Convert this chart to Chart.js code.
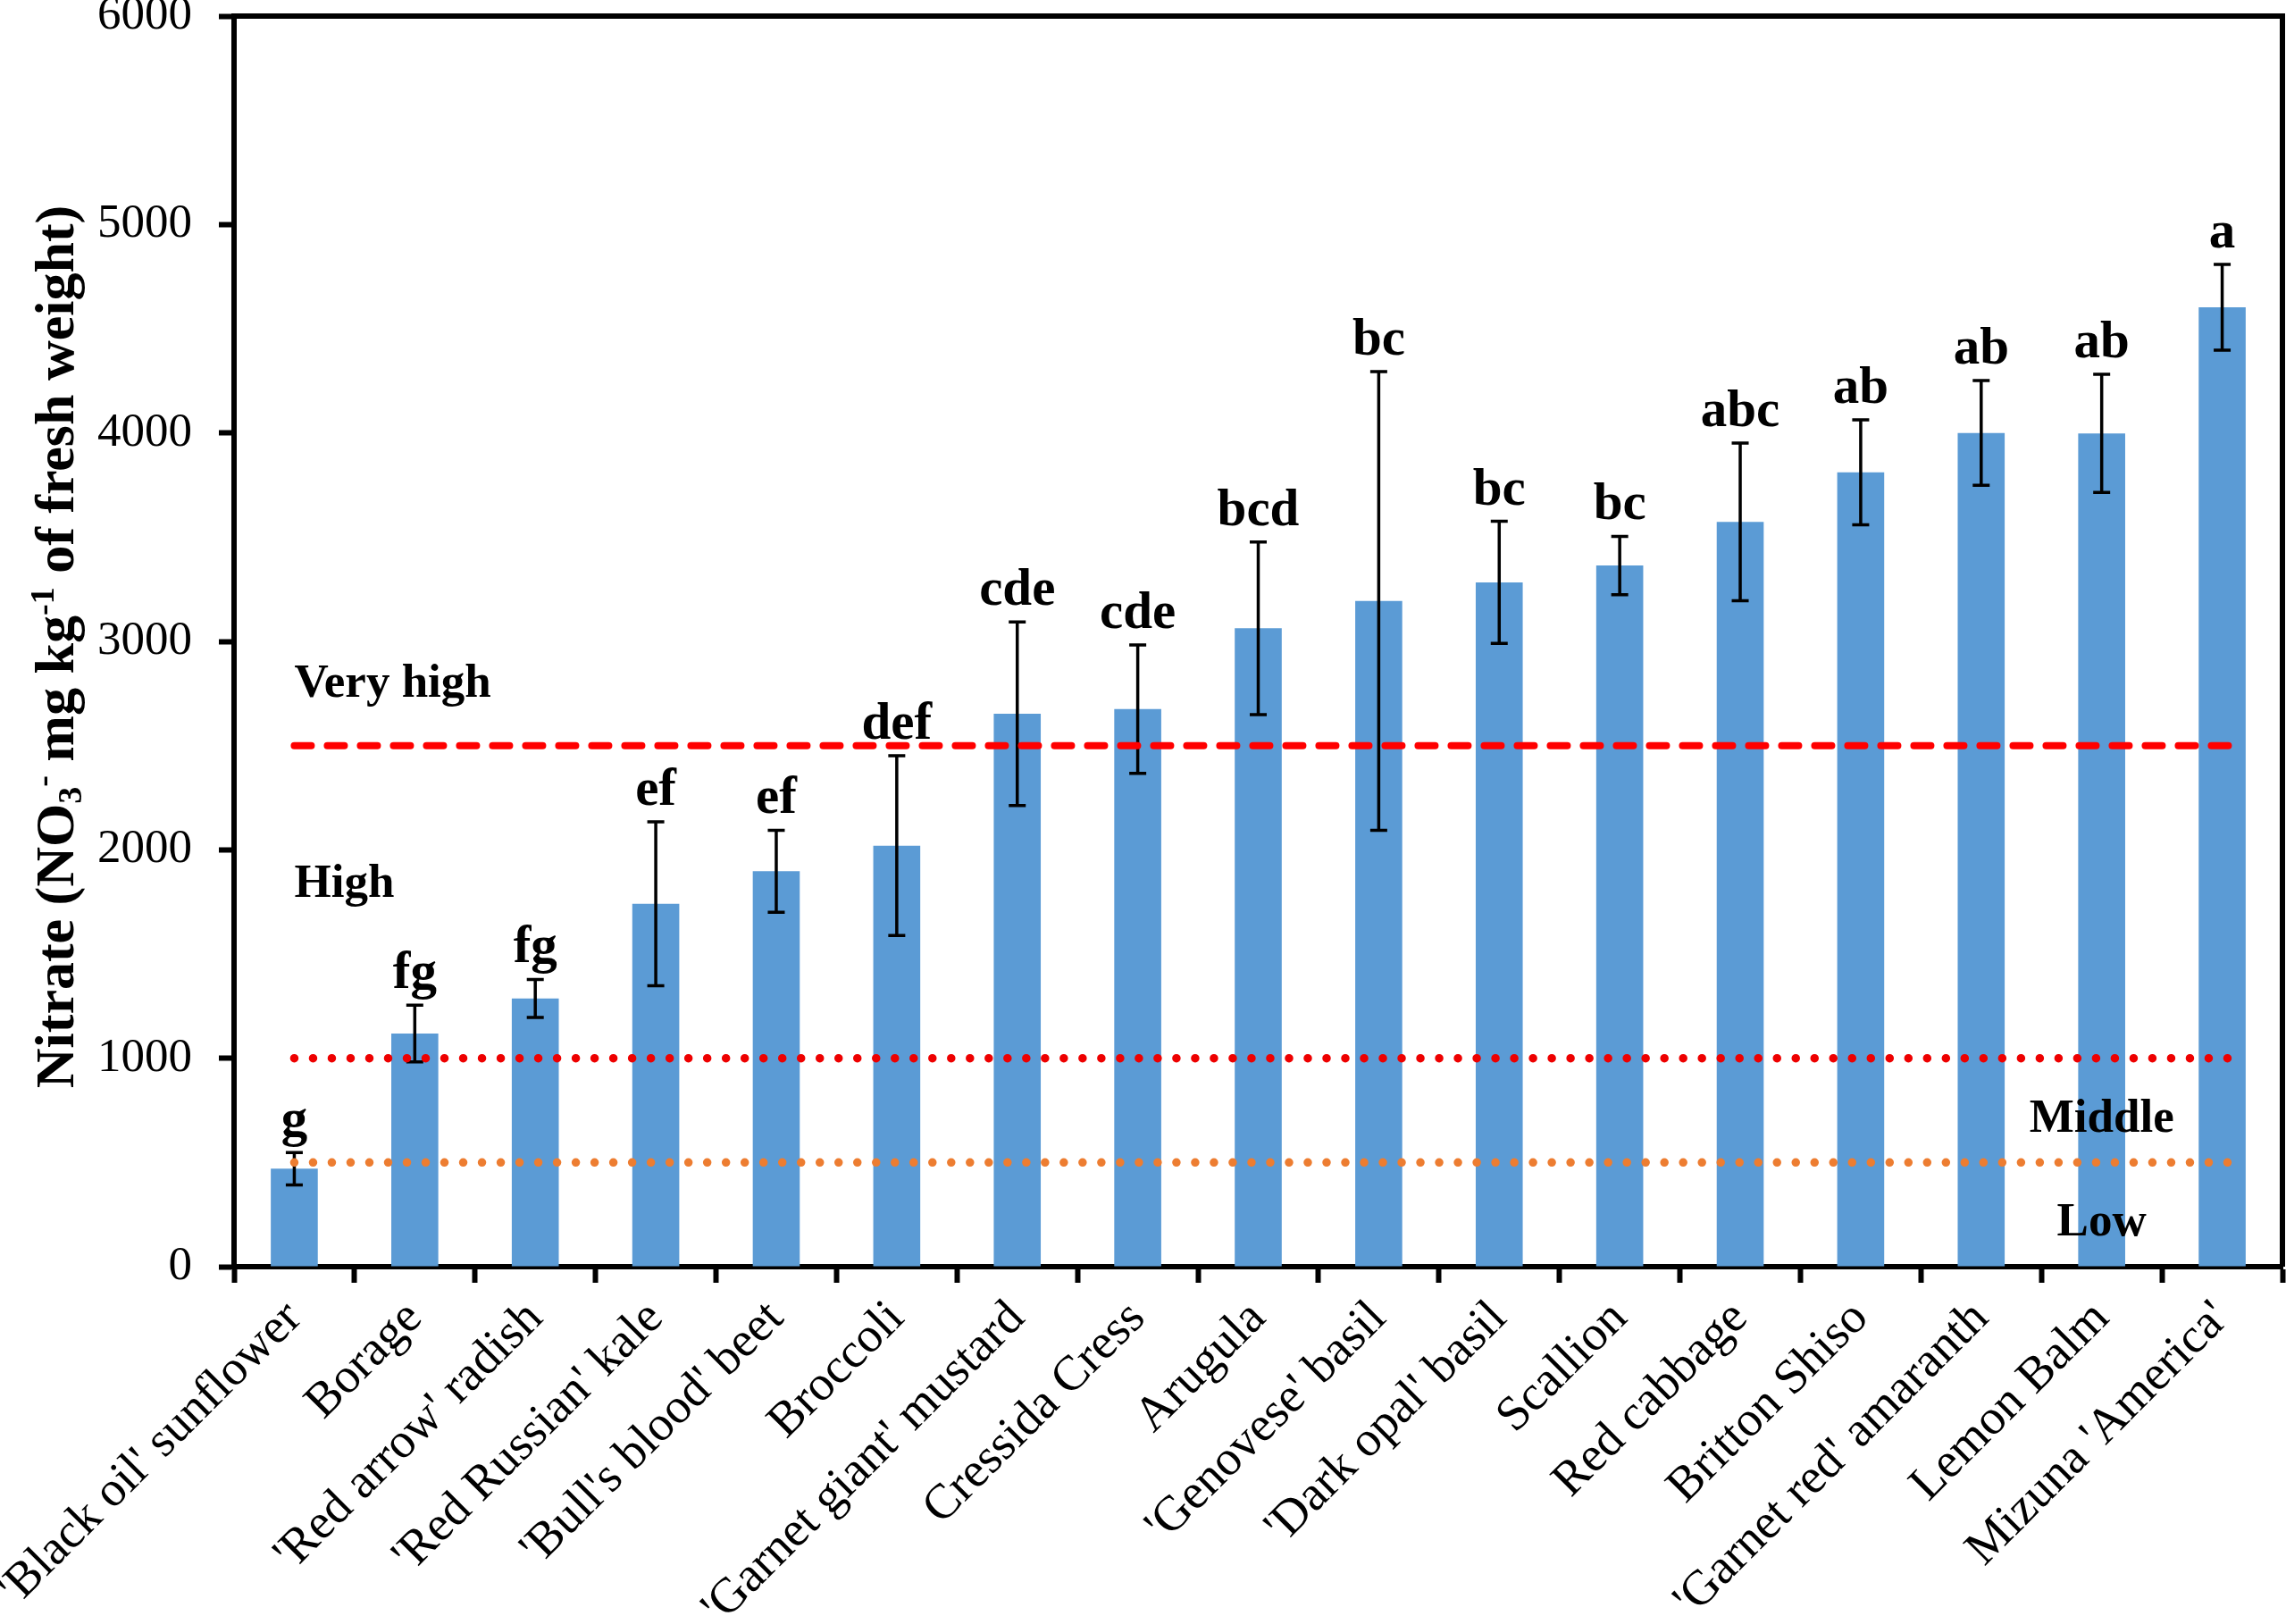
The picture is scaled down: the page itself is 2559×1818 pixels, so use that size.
<!DOCTYPE html>
<html>
<head>
<meta charset="utf-8">
<script src="https://cdn.jsdelivr.net/npm/chart.js@4.4.0/dist/chart.umd.min.js"></script>
<style>
html,body{margin:0;padding:0;background:#fff;}
#wrap{width:2559px;height:1818px;position:relative;}
</style>
</head>
<body>
<div id="wrap"><canvas id="c" width="2559" height="1818"></canvas></div>
<script>
// ---------------- data ----------------
const categories = ["'Black oil' sunflower","Borage","'Red arrow' radish","'Red Russian' kale","'Bull's blood' beet","Broccoli","'Garnet giant' mustard","Cressida Cress","Arugula","'Genovese' basil","'Dark opal' basil","Scallion","Red cabbage","Britton Shiso","'Garnet red' amaranth","Lemon Balm","Mizuna 'America'"];
const nitrateMean = [470, 1119, 1287, 1741, 1897, 2020, 2653, 2675, 3063, 3194, 3283, 3364, 3573, 3811, 4000, 3998, 4603];
const nitrateError = [78, 136, 91, 393, 197, 431, 440, 308, 414, 1100, 293, 140, 378, 252, 251, 283, 206];
const groupLetters = ["g","fg","fg","ef","ef","def","cde","cde","bcd","bc","bc","bc","abc","ab","ab","ab","a"];
const yTickValues = [0, 1000, 2000, 3000, 4000, 5000, 6000];
const limitValues = [2500, 1000, 500];          // Very high / High / Middle thresholds
const zoneLabels = ["Very high", "High", "Middle", "Low"];
const zoneLabelValue = [2735, 1774, 647, 150];   // anchor value (y) of each zone label
const zoneLabelCategory = [0, 0, 15, 15];        // anchor category index of each zone label
const yTitleParts = [["Nitrate (NO",0],["3",-1],["-",1],[" mg kg",0],["-1",1],[" of fresh weight)",0]];

// ---------------- styles ----------------
const SERIF = '"Liberation Serif", "Times New Roman", serif';
const BAR_COLOR = '#5B9BD5';
const limitStyles = [
  {color:'#FF0000', width:8, dash:[19,18]},
  {color:'#EE0000', width:9.5, dash:[0.01,21]},
  {color:'#ED7D31', width:9.5, dash:[0.01,21]}
];
const zoneAlign = ['left','left','center','center'];

const overlay = {
  id: 'overlay',
  afterDatasetsDraw(chart) {
    const ctx = chart.ctx, xs = chart.scales.x, ys = chart.scales.y;
    ctx.save();
    // error bars + letters
    ctx.strokeStyle = '#000';
    ctx.fillStyle = '#000';
    ctx.lineWidth = 3.5;
    ctx.font = 'bold 59px ' + SERIF;
    ctx.textAlign = 'center';
    ctx.textBaseline = 'alphabetic';
    nitrateMean.forEach((m, i) => {
      const cx = xs.getPixelForValue(i);
      const yt = ys.getPixelForValue(m + nitrateError[i]);
      const yb = ys.getPixelForValue(m - nitrateError[i]);
      ctx.beginPath();
      ctx.moveTo(cx, yt); ctx.lineTo(cx, yb);
      ctx.moveTo(cx - 9.5, yt); ctx.lineTo(cx + 9.5, yt);
      ctx.moveTo(cx - 9.5, yb); ctx.lineTo(cx + 9.5, yb);
      ctx.stroke();
      ctx.fillText(groupLetters[i], cx, yt - 19);
    });
    // threshold lines
    const x0 = xs.getPixelForValue(0), x1 = xs.getPixelForValue(categories.length - 1);
    limitValues.forEach((v, k) => {
      const st = limitStyles[k];
      const py = ys.getPixelForValue(v);
      ctx.beginPath();
      ctx.strokeStyle = st.color;
      ctx.lineWidth = st.width;
      ctx.lineCap = 'round';
      ctx.setLineDash(st.dash);
      ctx.moveTo(x0, py); ctx.lineTo(x1 + 8, py);
      ctx.stroke();
    });
    ctx.setLineDash([]);
    // zone labels
    ctx.fillStyle = '#000';
    ctx.font = 'bold 53px ' + SERIF;
    zoneLabels.forEach((t, k) => {
      ctx.textAlign = zoneAlign[k];
      ctx.fillText(t, xs.getPixelForValue(zoneLabelCategory[k]), ys.getPixelForValue(zoneLabelValue[k]));
    });
    ctx.restore();
  },
  afterDraw(chart) {
    const ctx = chart.ctx, a = chart.chartArea;
    ctx.save();
    // frame: top and right
    ctx.strokeStyle = '#000';
    ctx.lineWidth = 6;
    ctx.lineCap = 'butt';
    ctx.beginPath();
    ctx.moveTo(a.left, a.top); ctx.lineTo(a.right + 3, a.top);
    ctx.moveTo(a.right, a.top - 3); ctx.lineTo(a.right, a.bottom);
    ctx.stroke();
    // y-axis title with sub/superscripts
    const big = 62, small = 38;
    const parts = yTitleParts.map(([t, s]) => {
      ctx.font = 'bold ' + (s === 0 ? big : small) + 'px ' + SERIF;
      return {t, s, w: ctx.measureText(t).width};
    });
    const total = parts.reduce((acc, p) => acc + p.w, 0);
    ctx.translate(82, (a.top + a.bottom) / 2 + 6);
    ctx.rotate(-Math.PI / 2);
    ctx.fillStyle = '#000';
    ctx.textAlign = 'left';
    ctx.textBaseline = 'alphabetic';
    let x = -total / 2;
    parts.forEach(p => {
      ctx.font = 'bold ' + (p.s === 0 ? big : small) + 'px ' + SERIF;
      const dy = p.s === -1 ? 9 : (p.s === 1 ? -22 : 0);
      ctx.fillText(p.t, x, dy);
      x += p.w;
    });
    ctx.restore();
  }
};

Chart.defaults.font.family = SERIF;
Chart.defaults.color = '#000';

new Chart(document.getElementById('c'), {
  type: 'bar',
  data: {
    labels: categories,
    datasets: [{
      label: 'Nitrate',
      data: nitrateMean,
      backgroundColor: BAR_COLOR,
      borderWidth: 0,
      barPercentage: 0.39,
      categoryPercentage: 1.0
    }]
  },
  options: {
    responsive: false,
    devicePixelRatio: 1,
    animation: false,
    layout: {padding: {top: 18, right: 4, left: 0, bottom: 0}},
    plugins: {legend: {display: false}, tooltip: {enabled: false}, title: {display: false}},
    scales: {
      x: {
        type: 'category',
        offset: true,
        grid: {offset: true, drawOnChartArea: false, drawTicks: true, tickLength: 18, tickWidth: 6, tickColor: '#000', color: '#000'},
        border: {display: true, color: '#000', width: 6},
        ticks: {autoSkip: false, minRotation: 45, maxRotation: 45, padding: 8, color: '#000', font: {size: 55, family: SERIF}},
        afterFit(s) { s.height = 400; s.paddingLeft = 0; s.paddingRight = 0; s.paddingTop = 0; s.paddingBottom = 0; }
      },
      y: {
        min: 0, max: 6000,
        afterBuildTicks(s) { s.ticks = yTickValues.map(v => ({value: v})); },
        grid: {drawOnChartArea: false, drawTicks: true, tickLength: 17, tickWidth: 6, tickColor: '#000', color: '#000'},
        border: {display: true, color: '#000', width: 6},
        ticks: {padding: 30, color: '#000', font: {size: 53, family: SERIF}, callback: v => String(v)},
        afterFit(s) { s.width = 262; s.paddingLeft = 0; s.paddingRight = 0; s.paddingTop = 0; s.paddingBottom = 0; }
      }
    }
  },
  plugins: [overlay]
});
</script>
</body>
</html>
